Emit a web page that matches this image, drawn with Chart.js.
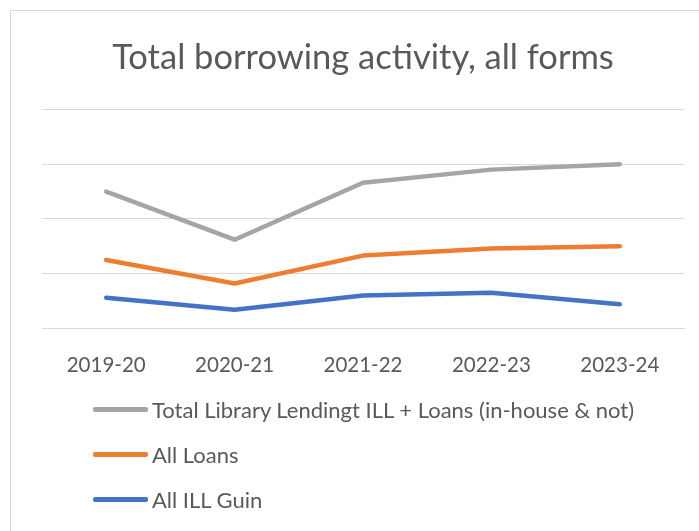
<!DOCTYPE html>
<html>
<head>
<meta charset="utf-8">
<script src="https://cdn.jsdelivr.net/npm/chart.js@4"></script>
<style>
  body { margin: 0; background: #fff; font-family: Lato, sans-serif; }
  #frame { position: absolute; left: 10px; top: 10px; width: 720px; height: 540px; border: 1px solid #d9d9d9; }
  #wrap { position: absolute; left: 0; top: 0; width: 699px; height: 395px; }
  #legend { position: absolute; left: 93px; top: 387px; color: #595959; font-size: 22px; }
  .item { display: flex; align-items: center; height: 45px; }
  .swatch { width: 55px; height: 4.5px; border-radius: 2px; margin-right: 4px; }
</style>
</head>
<body>
<div id="frame"></div>
<div id="wrap"><canvas id="borrowChart"></canvas></div>
<div id="legend"></div>
<script>
// data (thousands)
const years = ["2019-20", "2020-21", "2021-22", "2022-23", "2023-24"];
const totalLending = [25.0, 16.2, 26.6, 29.0, 30.0];
const allLoans = [12.5, 8.2, 13.3, 14.6, 15.0];
const allIll = [5.6, 3.4, 6.0, 6.5, 4.4];

const seriesNames = [
  "Total Library Lendingt ILL + Loans (in-house & not)",
  "All Loans",
  "All ILL Guin",
];
const seriesColors = ["#A5A5A5", "#ED7D31", "#4472C4"];

const ctx = document.getElementById("borrowChart").getContext("2d");

const chart = new Chart(ctx, {
  type: "line",
  data: {
    labels: years,
    datasets: [totalLending, allLoans, allIll].map((d, i) => ({
      label: seriesNames[i],
      data: d,
      borderColor: seriesColors[i],
      backgroundColor: seriesColors[i],
      borderWidth: 4.5,
      borderCapStyle: "round",
      borderJoinStyle: "round",
      pointRadius: 0,
      tension: 0,
      fill: false,
    })),
  },
  options: {
    responsive: true,
    maintainAspectRatio: false,
    animation: false,
    layout: { padding: { left: 42, right: 15, top: 0, bottom: 0 } },
    plugins: {
      legend: { display: false },
      tooltip: { enabled: false },
      title: {
        display: true,
        text: "Total borrowing activity, all forms",
        color: "#595959",
        font: { family: "Lato", size: 34.5, weight: "normal" },
        padding: { top: 37, bottom: 31 },
      },
    },
    scales: {
      x: {
        offset: true,
        grid: { display: false },
        border: { display: true, color: "#d9d9d9", width: 1 },
        ticks: {
          color: "#595959",
          font: { family: "Lato", size: 20.5 },
          padding: 17,
        },
      },
      y: {
        min: 0,
        max: 40,
        ticks: { display: false, stepSize: 10 },
        border: { display: false },
        grid: { color: "#d9d9d9", lineWidth: 1, drawTicks: false },
      },
    },
  },
});

// Build the legend as a column, like the original
const legend = document.getElementById("legend");
chart.data.datasets.forEach((ds) => {
  const row = document.createElement("div");
  row.className = "item";
  row.innerHTML = `<span class="swatch" style="background:${ds.borderColor}"></span><span>${ds.label.replace("&", "&amp;")}</span>`;
  legend.appendChild(row);
});
</script>
</body>
</html>
